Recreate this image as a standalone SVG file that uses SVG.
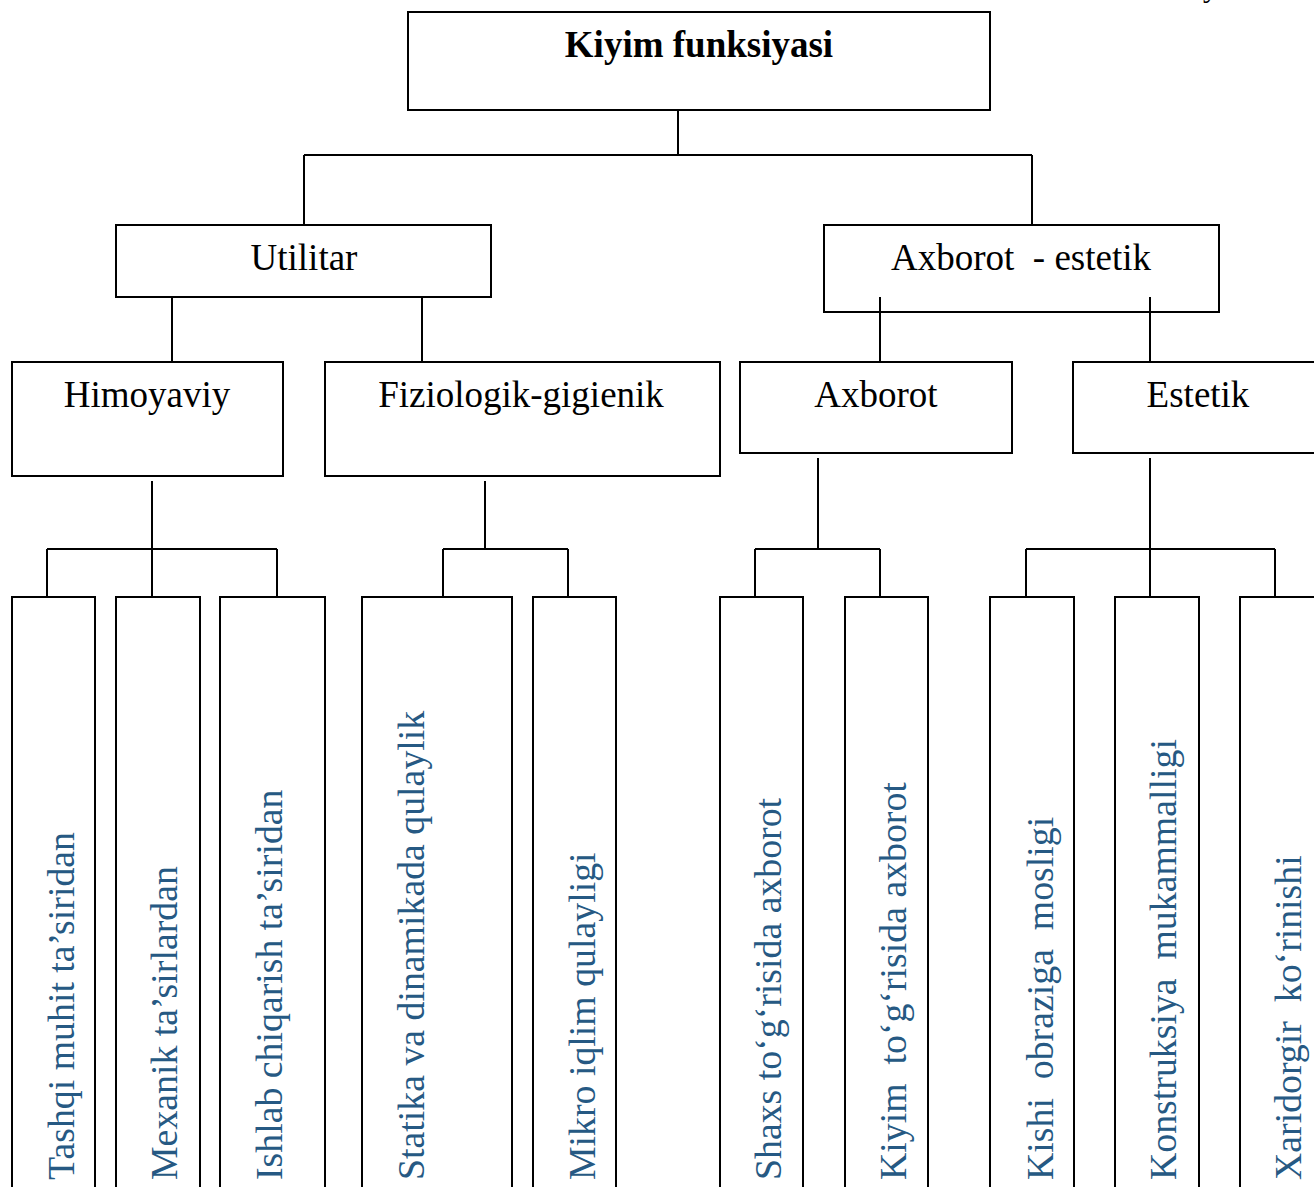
<svg xmlns="http://www.w3.org/2000/svg" width="1314" height="1187" viewBox="0 0 1314 1187">
<style>
.box{fill:#fff;stroke:#000;stroke-width:2}
.t{font-family:"Liberation Serif","Times New Roman",serif;font-size:37px;fill:#000;text-anchor:middle}
.b{font-weight:bold}
.v{font-family:"Liberation Serif","Times New Roman",serif;font-size:37.8px;fill:#265983;white-space:pre}
.c{stroke:#000;stroke-width:2;fill:none}
</style>
<rect width="1314" height="1187" fill="#fff"/>
<text x="1203" y="-3" font-family="Liberation Serif, serif" font-size="30" fill="#000">y</text>
<g id="connectors">
<path class="c" d="M678 110V155M304 155H1032M304 155V225M1032 155V225"/>
<path class="c" d="M172 297V362M422 297V362M880 297V362M1150 297V362"/>
<path class="c" d="M152 481V597M47 549H277M47 549V597M277 549V597"/>
<path class="c" d="M485 481V549M443 549H568M443 549V597M568 549V597"/>
<path class="c" d="M818 458V549M755 549H880M755 549V597M880 549V597"/>
<path class="c" d="M1150 458V597M1026 549H1275M1026 549V597M1275 549V597"/>
</g>
<g id="n-root"><rect class="box" x="408" y="12" width="582" height="98"/><text class="t b" x="699" y="57">Kiyim funksiyasi</text></g>
<g id="n-utilitar"><rect class="box" x="116" y="225" width="375" height="72"/><text class="t" x="304" y="270">Utilitar</text></g>
<g id="n-axest"><rect class="box" x="824" y="225" width="395" height="87"/><text class="t" x="1021" y="270" style="white-space:pre">Axborot  - estetik</text></g>
<path class="c" d="M880 297V312M1150 297V312"/>
<g id="n-himoya"><rect class="box" x="12" y="362" width="271" height="114"/><text class="t" x="147" y="407">Himoyaviy</text></g>
<g id="n-fizio"><rect class="box" x="325" y="362" width="395" height="114"/><text class="t" x="521" y="407">Fiziologik-gigienik</text></g>
<g id="n-axborot"><rect class="box" x="740" y="362" width="272" height="91"/><text class="t" x="876" y="407">Axborot</text></g>
<g id="n-estetik"><rect class="box" x="1073" y="362" width="250" height="91"/><text class="t" x="1198" y="407">Estetik</text></g>
<g id="l1"><rect class="box" x="12" y="597" width="83" height="600"/><text class="v" transform="translate(74 1180) rotate(-90)">Tashqi muhit ta’siridan</text></g>
<g id="l2"><rect class="box" x="116" y="597" width="84" height="600"/><text class="v" transform="translate(177 1180) rotate(-90)">Mexanik ta’sirlardan</text></g>
<g id="l3"><rect class="box" x="220" y="597" width="105" height="600"/><text class="v" transform="translate(282 1180) rotate(-90)">Ishlab chiqarish ta’siridan</text></g>
<g id="l4"><rect class="box" x="362" y="597" width="150" height="600"/><text class="v" transform="translate(424 1180) rotate(-90)">Statika va dinamikada qulaylik</text></g>
<g id="l5"><rect class="box" x="533" y="597" width="83" height="600"/><text class="v" transform="translate(595 1180) rotate(-90)">Mikro iqlim qulayligi</text></g>
<g id="l6"><rect class="box" x="720" y="597" width="83" height="600"/><text class="v" transform="translate(781 1180) rotate(-90)">Shaxs to‘g‘risida axborot</text></g>
<g id="l7"><rect class="box" x="845" y="597" width="83" height="600"/><text class="v" transform="translate(906 1180) rotate(-90)">Kiyim  to‘g‘risida axborot</text></g>
<g id="l8"><rect class="box" x="990" y="597" width="84" height="600"/><text class="v" transform="translate(1053 1180) rotate(-90)">Kishi  obraziga  mosligi</text></g>
<g id="l9"><rect class="box" x="1115" y="597" width="84" height="600"/><text class="v" transform="translate(1176 1180) rotate(-90)">Konstruksiya  mukammalligi</text></g>
<g id="l10"><rect class="box" x="1240" y="597" width="90" height="600"/><text class="v" transform="translate(1301 1180) rotate(-90)">Xaridorgir  ko‘rinishi</text></g>
</svg>
